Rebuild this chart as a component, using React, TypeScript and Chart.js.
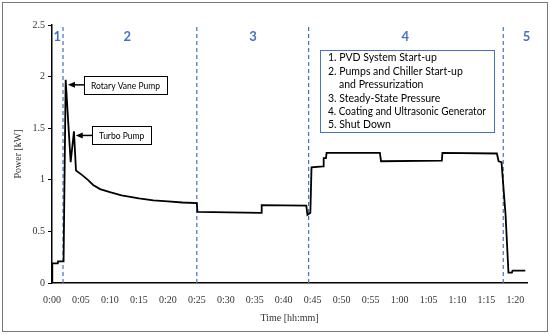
import { useEffect, useRef } from 'react';
import { Chart, registerables } from 'chart.js';

Chart.register(...registerables);

// Power trace (time in minutes, power in kW)
const timeMin = [
  0, 0.05, 1.0, 1.05, 2.0, 2.36, 3.22, 3.79, 4.14, 5.1, 6.2, 7.1, 8.3, 10.0, 12.0, 15.0, 17.5, 20.0, 22.5,
  25.0, 25.1, 36.1, 36.2, 43.9, 44.1, 44.6, 44.8, 46.8, 46.9, 47.3, 47.4, 56.6, 56.8, 67.3, 67.4,
  76.8, 77.1, 77.6, 78.3, 78.8, 79.4, 79.5, 81.7,
];
const powerKW = [
  0, 0.19, 0.19, 0.21, 0.21, 1.97, 1.17, 1.47, 1.09, 1.05, 1.0, 0.95, 0.91, 0.88, 0.85, 0.82, 0.8, 0.79, 0.78,
  0.775, 0.69, 0.68, 0.755, 0.75, 0.66, 0.68, 1.12, 1.13, 1.21, 1.21, 1.26, 1.26, 1.18, 1.185, 1.26,
  1.255, 1.18, 1.17, 0.66, 0.1, 0.1, 0.12, 0.12,
];

// Phase boundaries (minutes) and labels
const phaseTimes = [1.9, 25.0, 44.3, 77.9];
const phaseLabels = ['1', '2', '3', '4', '5'];
const phaseLabelTimes = [0.92, 13.0, 34.7, 61.0, 81.9];

// Axis
const xMin = 0;
const xMax = 82;
const xTickValues = [0, 5, 10, 15, 20, 25, 30, 35, 40, 45, 50, 55, 60, 65, 70, 75, 80];
const yMin = 0;
const yMax = 2.5;
const yTickStep = 0.5;
const xTitle = 'Time [hh:mm]';
const yTitle = 'Power [kW]';

// Legend text box
const legendLines = [
  '1. PVD System Start-up',
  '2. Pumps and Chiller Start-up',
  'and Pressurization',
  '3. Steady-State Pressure',
  '4. Coating and Ultrasonic Generator',
  '5. Shut Down',
];
const legendIndent = [false, false, true, false, false, false];

// Callouts
const calloutLabels = ['Rotary Vane Pump', 'Turbo Pump'];
const calloutTimes = [2.75, 4.1];
const calloutValues = [1.92, 1.43];

const BLUE = '#4472C4';
const SERIF = '"Liberation Serif", "DejaVu Serif", serif';
const SANS = 'Lato, "Noto Sans", sans-serif';

const fmtTime = (v: number) => `${Math.floor(v / 60)}:${String(Math.round(v % 60)).padStart(2, '0')}`;

const overlay = {
  id: 'overlay',
  beforeDraw(chart: any) {
    const { ctx, width, height } = chart;
    ctx.save();
    ctx.fillStyle = '#fff';
    ctx.fillRect(0, 0, width, height);
    ctx.restore();
  },
  afterDatasetsDraw(chart: any) {
    const { ctx, chartArea } = chart;
    const x = chart.scales.x;
    const y = chart.scales.y;
    ctx.save();

    // zone labels
    ctx.fillStyle = BLUE;
    ctx.font = `bold 13px ${SANS}`;
    ctx.textAlign = 'center';
    ctx.textBaseline = 'middle';
    phaseLabels.forEach((l, i) => {
      ctx.fillText(l, x.getPixelForValue(phaseLabelTimes[i]), chartArea.top + 12);
    });

    // callouts
    ctx.font = `8.5px ${SANS}`;
    ctx.textAlign = 'left';
    calloutLabels.forEach((label, i) => {
      const tx = x.getPixelForValue(calloutTimes[i]);
      const ty = y.getPixelForValue(calloutValues[i]);
      const tw = ctx.measureText(label).width;
      const bw = Math.round(tw + 14);
      const bh = 18;
      const bx = Math.round(tx + 16);
      const by = Math.round(ty - bh / 2);
      ctx.fillStyle = '#fff';
      ctx.fillRect(bx, by, bw, bh);
      ctx.strokeStyle = '#000';
      ctx.lineWidth = 1;
      ctx.strokeRect(bx + 0.5, by + 0.5, bw, bh);
      ctx.fillStyle = '#000';
      ctx.fillText(label, bx + 7, by + bh / 2 + 1);
      // arrow
      ctx.beginPath();
      ctx.moveTo(bx, ty);
      ctx.lineTo(tx + 5, ty);
      ctx.lineWidth = 1.5;
      ctx.stroke();
      ctx.beginPath();
      ctx.moveTo(tx, ty);
      ctx.lineTo(tx + 7, ty - 3);
      ctx.lineTo(tx + 7, ty + 3);
      ctx.closePath();
      ctx.fill();
    });

    // legend box
    const lx = chartArea.left + 268;
    const ly = chartArea.top + 25;
    const lw = 174;
    const lh = 82;
    ctx.fillStyle = '#fff';
    ctx.fillRect(lx, ly, lw, lh);
    ctx.strokeStyle = BLUE;
    ctx.lineWidth = 1;
    ctx.strokeRect(lx + 0.5, ly + 0.5, lw, lh);
    ctx.fillStyle = '#000';
    ctx.font = `10.5px ${SANS}`;
    ctx.textBaseline = 'middle';
    legendLines.forEach((t, i) => {
      ctx.fillText(t, lx + (legendIndent[i] ? 19 : 8), ly + 8 + i * 13.4, 158);
    });

    ctx.restore();
  },
  afterDraw(chart: any) {
    const { ctx, width, height } = chart;
    ctx.save();
    ctx.strokeStyle = '#777';
    ctx.lineWidth = 1;
    ctx.strokeRect(2.5, 2.5, width - 5, height - 5);
    ctx.restore();
  },
};

export default function App() {
  const ref = useRef<HTMLCanvasElement | null>(null);
  useEffect(() => {
    document.body.style.margin = '0';
    if (!ref.current) return;
    const datasets: any[] = [
      {
        data: timeMin.map((t, i) => ({ x: t, y: powerKW[i] })),
        borderColor: '#000',
        borderWidth: 1.8,
        pointRadius: 0,
        tension: 0,
        fill: false,
        order: 0,
      },
      ...phaseTimes.map((t) => ({
        data: [
          { x: t, y: yMin },
          { x: t, y: yMax },
        ],
        borderColor: BLUE,
        borderWidth: 1.2,
        borderDash: [4, 3],
        pointRadius: 0,
        fill: false,
        order: 1,
      })),
    ];
    const chart = new Chart(ref.current, {
      type: 'line',
      data: { datasets },
      options: {
        responsive: false,
        animation: false,
        layout: { padding: { left: 0, top: 25, right: 23, bottom: 0 } },
        plugins: { legend: { display: false }, tooltip: { enabled: false } },
        scales: {
          x: {
            type: 'linear',
            min: xMin,
            max: xMax,
            afterFit: (s: any) => {
              s.height = 51;
            },
            afterBuildTicks: (s: any) => {
              s.ticks = xTickValues.map((v) => ({ value: v }));
            },
            grid: { display: false },
            border: { display: true, color: '#000', width: 1.5 },
            ticks: {
              autoSkip: false,
              maxRotation: 0,
              padding: 3,
              color: '#333',
              font: { family: SERIF, size: 10 },
              callback: (v: any) => fmtTime(Number(v)),
            },
            title: {
              display: true,
              text: xTitle,
              color: '#333',
              font: { family: SERIF, size: 10 },
              padding: { top: 0, bottom: 10 },
            },
          },
          y: {
            type: 'linear',
            min: yMin,
            max: yMax,
            afterFit: (s: any) => {
              s.width = 52;
            },
            grid: { drawOnChartArea: false, drawTicks: true, tickLength: 4, color: '#000' },
            border: { display: true, color: '#000', width: 1.5 },
            ticks: {
              stepSize: yTickStep,
              padding: 3,
              color: '#333',
              font: { family: SERIF, size: 10 },
              callback: (v: any) => String(v),
            },
            title: {
              display: true,
              text: yTitle,
              color: '#333',
              font: { family: SERIF, size: 10 },
              padding: { top: 12, bottom: 0 },
            },
          },
        },
      },
      plugins: [overlay],
    });
    return () => chart.destroy();
  }, []);
  return <canvas ref={ref} width={550} height={334} style={{ display: 'block' }} />;
}
